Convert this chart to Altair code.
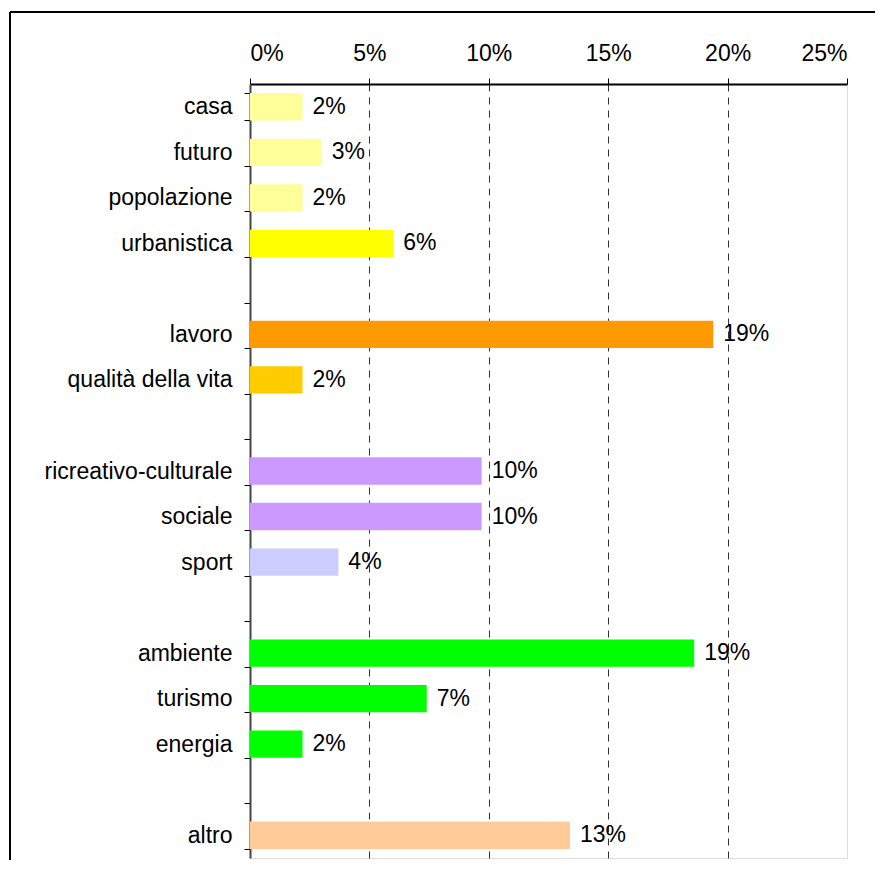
import altair as alt
import pandas as pd

categories = ["casa", "futuro", "popolazione", "urbanistica", " ",
              "lavoro", "qualità della vita", "  ",
              "ricreativo-culturale", "sociale", "sport", "   ",
              "ambiente", "turismo", "energia", "    ",
              "altro"]
values = [2.2, 3.0, 2.2, 6.0, None,
          19.4, 2.2, None,
          9.7, 9.7, 3.7, None,
          18.6, 7.4, 2.2, None,
          13.4]
labels = ["2%", "3%", "2%", "6%", "",
          "19%", "2%", "",
          "10%", "10%", "4%", "",
          "19%", "7%", "2%", "",
          "13%"]
colors = ["#FFFF99", "#FFFF99", "#FFFF99", "#FFFF00", "#FFFFFF",
          "#FF9900", "#FFCC00", "#FFFFFF",
          "#CC99FF", "#CC99FF", "#CCCCFF", "#FFFFFF",
          "#00FF00", "#00FF00", "#00FF00", "#FFFFFF",
          "#FFCC99"]
x_ticks = [0, 5, 10, 15, 20, 25]

df = pd.DataFrame({"cat": categories, "val": values, "lab": labels, "col": colors})

FONT = "Liberation Sans"
FS = 23
W, H = 597, 774

y_enc = alt.Y("cat:N", sort=categories,
              scale=alt.Scale(paddingInner=0.4, paddingOuter=0.2),
              axis=alt.Axis(title=None, labelFont=FONT, labelFontSize=FS,
                            labelColor="black", labelPadding=12, labelLimit=400,
                            tickBand="extent", tickSize=6, tickColor="black",
                            domainColor="#444444", domainWidth=2))

x_enc = alt.X("val:Q",
              scale=alt.Scale(domain=[0, 25], nice=False),
              axis=alt.Axis(orient="top", title=None, values=x_ticks,
                            labelExpr="datum.value + '%'",
                            labelFont=FONT, labelFontSize=FS, labelColor="black",
                            labelPadding=13, tickSize=6, tickColor="black",
                            domainColor="black", domainWidth=2,
                            grid=True, gridColor="#333333", gridDash=[7, 6],
                            gridWidth=1,
                            gridOpacity={"condition": {"test": "datum.value == 0 || datum.value == 25",
                                                       "value": 0},
                                         "value": 1}))

bars = alt.Chart(df).mark_bar().encode(
    x=x_enc, y=y_enc,
    color=alt.Color("col:N", scale=None, legend=None),
)

text = alt.Chart(df).mark_text(align="left", baseline="middle", dx=10,
                               font=FONT, fontSize=FS, color="black").encode(
    x=alt.X("val:Q"), y=alt.Y("cat:N", sort=categories), text="lab:N"
)

frame_data = alt.Data(values=[{"a": 1}])
frame_top = alt.Chart(frame_data).mark_rule(color="black", strokeWidth=2).encode(
    x=alt.value(-240), x2=alt.value(625), y=alt.value(-72))
frame_left = alt.Chart(frame_data).mark_rule(color="black", strokeWidth=2).encode(
    x=alt.value(-240), y=alt.value(-72), y2=alt.value(776))

chart = alt.layer(frame_top, frame_left, bars, text).properties(
    width=W, height=H,
    padding={"left": 1, "top": 3, "right": 0, "bottom": 0},
).configure_view(stroke="#888888", strokeWidth=2).configure(background="white")

chart.save("out.html", embed_options={"renderer": "svg", "actions": False})
